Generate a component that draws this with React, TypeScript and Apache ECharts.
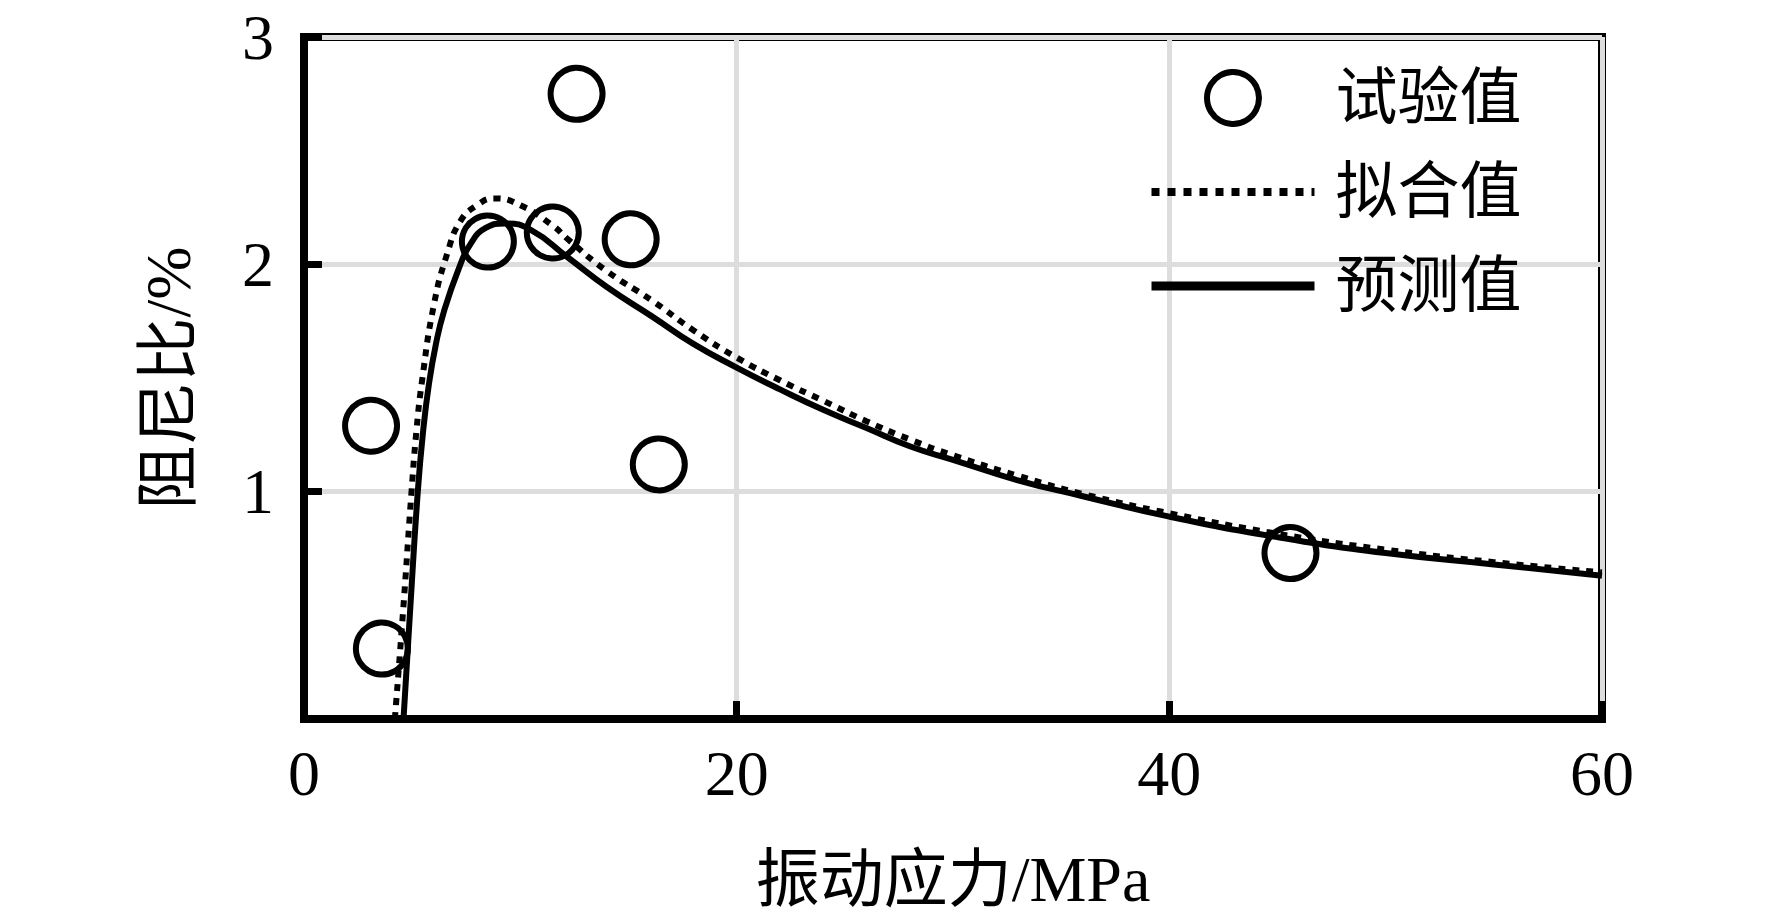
import React, { useEffect, useRef } from "react";
import * as echarts from "echarts";

// ---- data ----
const xTicks = [0, 20, 40, 60];
const yTicks = [0, 1, 2, 3];

const expStress = [3.1, 3.6, 8.5, 11.5, 12.6, 15.1, 16.4, 45.6];
const expDamping = [1.29, 0.31, 2.1, 2.14, 2.75, 2.11, 1.12, 0.73];

const fitStress = [4.2, 4.6, 4.97, 5.2, 5.46, 6.0, 6.63, 7.23, 8.0, 8.8, 10.0, 11.5, 12.2, 14.0, 16.1, 18.0, 20.0, 22.0, 24.0, 26.0, 28.0, 30.0, 33.0, 36.0, 40.0, 45.0, 50.0, 55.0, 60.0];
const fitDamping = [0.0, 0.5, 1.0, 1.27, 1.49, 1.82, 2.05, 2.19, 2.26, 2.29, 2.26, 2.17, 2.11, 1.97, 1.84, 1.71, 1.59, 1.49, 1.4, 1.31, 1.23, 1.16, 1.07, 0.99, 0.905, 0.815, 0.745, 0.69, 0.645];

const predStress = [4.6, 4.92, 5.26, 5.5, 5.77, 6.1, 6.46, 7.15, 7.7, 8.4, 9.3, 10.5, 12.2, 14.0, 16.1, 18.0, 20.0, 22.0, 24.0, 26.0, 28.0, 30.0, 33.0, 36.0, 40.0, 45.0, 50.0, 55.0, 60.0];
const predDamping = [0.0, 0.5, 1.0, 1.26, 1.47, 1.65, 1.79, 1.98, 2.09, 2.16, 2.18, 2.15, 2.03, 1.9, 1.77, 1.65, 1.546, 1.45, 1.36, 1.28, 1.2, 1.14, 1.05, 0.98, 0.89, 0.8, 0.73, 0.68, 0.63];

const seriesNames = ["试验值", "拟合值", "预测值"];
const xName = "振动应力/MPa";
const yName = "阻尼比/%";

const FONT = "'Liberation Serif', 'Times New Roman', 'Noto Sans CJK SC', serif";

export default function App() {
  const ref = useRef<HTMLDivElement>(null);
  useEffect(() => {
    if (!ref.current) return;
    const chart = echarts.init(ref.current, undefined, { renderer: "svg" });
    const zip = (xs: number[], ys: number[]) => xs.map((x, i) => [x, ys[i]]);
    const hiddenSymbol = { color: "rgba(0,0,0,0)", borderWidth: 0, opacity: 0 };
    chart.setOption({
      animation: false,
      backgroundColor: "#fff",
      color: ["#000"],
      textStyle: { fontFamily: FONT, color: "#000" },
      grid: {
        left: 304,
        top: 37,
        width: 1298,
        height: 687,
        show: true,
        borderColor: "#000",
        borderWidth: 8,
        backgroundColor: "transparent",
      },
      legend: {
        orient: "vertical",
        left: 1147,
        top: 67,
        padding: 0,
        itemWidth: 163,
        itemHeight: 52,
        itemGap: 32,
        textStyle: {
          fontFamily: FONT,
          fontSize: 62,
          color: "#000",
          padding: [0, 0, 0, 16],
        },
        data: [
          {
            name: seriesNames[0],
            icon: "circle",
            itemStyle: { color: "rgba(0,0,0,0)", borderColor: "#000", borderWidth: 6, opacity: 1 },
          },
          {
            name: seriesNames[1],
            itemStyle: hiddenSymbol,
            lineStyle: { color: "#000", width: 8, type: [8, 8], cap: "butt" },
          },
          {
            name: seriesNames[2],
            itemStyle: hiddenSymbol,
            lineStyle: { color: "#000", width: 9, type: "solid" },
          },
        ],
      },
      xAxis: {
        type: "value",
        min: xTicks[0],
        max: xTicks[xTicks.length - 1],
        interval: 20,
        name: xName,
        nameLocation: "middle",
        nameGap: 128,
        nameTextStyle: { fontFamily: FONT, fontSize: 64, color: "#000" },
        axisLine: { show: true, onZero: false, lineStyle: { color: "#000", width: 8 } },
        axisTick: { show: true, inside: true, length: 18, lineStyle: { color: "#000", width: 7 } },
        axisLabel: { fontFamily: FONT, fontSize: 64, color: "#000", margin: 22 },
        splitLine: { show: true, lineStyle: { color: "#dddddd", width: 5 } },
      },
      yAxis: {
        type: "value",
        min: yTicks[0],
        max: yTicks[yTicks.length - 1],
        interval: 1,
        name: yName,
        nameLocation: "middle",
        nameGap: 104,
        nameRotate: 90,
        nameTextStyle: { fontFamily: FONT, fontSize: 64, color: "#000" },
        axisLine: { show: true, onZero: false, lineStyle: { color: "#000", width: 8 } },
        axisTick: { show: true, inside: true, length: 18, lineStyle: { color: "#000", width: 7 } },
        axisLabel: {
          fontFamily: FONT,
          fontSize: 64,
          color: "#000",
          margin: 30,
          formatter: (v: number) => (v === 0 ? "" : String(v)),
        },
        splitLine: { show: true, lineStyle: { color: "#dddddd", width: 5 } },
      },
      series: [
        {
          name: seriesNames[2],
          type: "line",
          data: zip(predStress, predDamping),
          smooth: 0.5,
          symbol: "none",
          clip: true,
          itemStyle: { color: "#000" },
          lineStyle: { color: "#000", width: 6 },
          z: 3,
        },
        {
          name: seriesNames[1],
          type: "line",
          data: zip(fitStress, fitDamping),
          smooth: 0.5,
          symbol: "none",
          clip: true,
          itemStyle: { color: "#000" },
          lineStyle: { color: "#000", width: 6, type: [7, 7], cap: "butt" },
          z: 4,
        },
        {
          name: seriesNames[0],
          type: "scatter",
          data: zip(expStress, expDamping),
          symbol: "circle",
          symbolSize: 52,
          itemStyle: { color: "rgba(0,0,0,0)", borderColor: "#000", borderWidth: 6, opacity: 1 },
          z: 5,
        },
      ],
    });
    return () => chart.dispose();
  }, []);
  return (
    <div
      ref={ref}
      style={{ position: "fixed", left: 0, top: 0, width: 1772, height: 916, background: "#fff" }}
    />
  );
}
